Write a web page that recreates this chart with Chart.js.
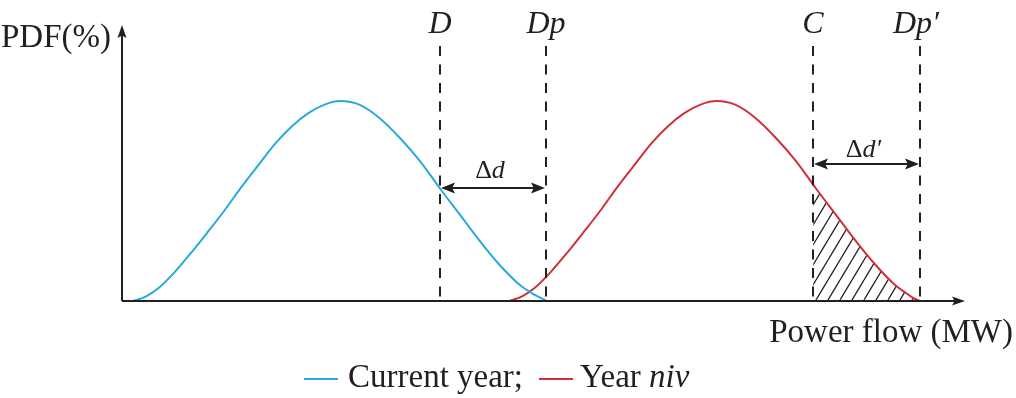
<!DOCTYPE html>
<html>
<head>
<meta charset="utf-8">
<script src="https://cdn.jsdelivr.net/npm/chart.js@4.4.0/dist/chart.umd.min.js"></script>
<style>
html,body{margin:0;padding:0;background:#fff;}
#wrap{width:1016px;height:398px;position:relative;}
</style>
</head>
<body>
<div id="wrap"><canvas id="c" width="1016" height="398"></canvas></div>
<script>
// ---- data (x: power flow, arbitrary units 0..100; y: PDF %, 0..100) ----
const seriesNames = ['Current year;', 'Year '];
const seriesItalicSuffix = ['', 'niv'];
const blueX = [1.3, 2.8, 4.3, 6.3, 8.3, 10.2, 12.2, 14.2, 16.2, 18.2, 20.1, 22.1, 24.1, 25.9, 28.2, 30.6, 33.0, 35.4, 37.7, 40.1, 42.5, 44.8, 47.2, 48.6, 49.6, 50.4];
const blueY = [0, 1.6, 4.6, 10.7, 17.9, 25.2, 33.1, 41.6, 49.5, 57.3, 63.4, 68.3, 71.5, 72.7, 71.3, 66.4, 59.2, 50.7, 41.0, 31.3, 21.6, 13.1, 5.8, 2.9, 1.2, 0];
const redX  = [45.9, 47.4, 48.9, 50.9, 52.9, 54.8, 56.8, 58.8, 60.8, 62.8, 64.7, 66.7, 68.7, 70.5, 72.8, 75.2, 77.6, 80.0, 82.3, 84.7, 87.1, 89.4, 91.7, 93.0, 93.9, 94.7];
const redY  = [0, 1.6, 4.6, 10.7, 17.9, 25.2, 33.1, 41.6, 49.5, 57.3, 63.4, 68.3, 71.5, 72.7, 71.3, 66.4, 59.2, 50.7, 41.0, 31.3, 21.6, 13.1, 5.8, 2.9, 1.0, 0];
const markerNames = ['D', 'Dp', 'C', 'Dp\u2032'];
const markerX = [37.7, 50.3, 82.0, 94.7];
const gapLabels = [['\u0394', 'd'], ['\u0394', 'd\u2032']];
const gapPairs = [[0, 1], [2, 3]];
const hatchRange = [2, 3];
const yAxisTitle = 'PDF(%)';
const xAxisTitle = 'Power flow (MW)';

// ---- styles ----
const SERIF = '"Liberation Serif","Times New Roman",Times,serif';
const INK = '#231f20';
const BLUE = '#29a9dc';
const RED = '#d12f3a';

function makeHatch() {
  const w = 12, h = 20;
  const c = document.createElement('canvas');
  c.width = w; c.height = h;
  const g = c.getContext('2d');
  g.strokeStyle = INK;
  g.lineWidth = 1.3;
  g.beginPath();
  g.moveTo(0, h); g.lineTo(w, 0);
  g.moveTo(-w, h); g.lineTo(0, 0);
  g.moveTo(w, h); g.lineTo(2 * w, 0);
  g.stroke();
  return c;
}

function arrowHead(ctx, x, y, dir, len, half) {
  ctx.beginPath();
  if (dir === 'right') { ctx.moveTo(x, y); ctx.lineTo(x - len, y - half); ctx.lineTo(x - len * 0.8, y); ctx.lineTo(x - len, y + half); }
  else if (dir === 'left') { ctx.moveTo(x, y); ctx.lineTo(x + len, y - half); ctx.lineTo(x + len * 0.8, y); ctx.lineTo(x + len, y + half); }
  else { ctx.moveTo(x, y); ctx.lineTo(x - half, y + len); ctx.lineTo(x, y + len * 0.8); ctx.lineTo(x + half, y + len); }
  ctx.closePath();
  ctx.fill();
}

const decor = {
  id: 'decor',
  beforeDatasetsDraw(chart) {
    const {ctx, chartArea: a, scales: {x}} = chart;
    const line = chart.getDatasetMeta(1).dataset;
    line.updateControlPoints(a, 'x');
    const x0 = x.getPixelForValue(markerX[hatchRange[0]]);
    const x1 = x.getPixelForValue(markerX[hatchRange[1]]);
    const pts = line.points;
    ctx.save();
    ctx.beginPath();
    ctx.rect(x0, a.top, x1 - x0 + 2, a.bottom - a.top);
    ctx.clip();
    ctx.beginPath();
    line.path(ctx);
    ctx.lineTo(pts[pts.length - 1].x, a.bottom);
    ctx.lineTo(pts[0].x, a.bottom);
    ctx.closePath();
    ctx.fillStyle = ctx.createPattern(makeHatch(), 'repeat');
    ctx.fill();
    ctx.restore();
  },
  afterDatasetsDraw(chart) {
    const {ctx, chartArea: a, scales: {x}} = chart;
    ctx.save();
    ctx.strokeStyle = INK;
    ctx.fillStyle = INK;

    // axes
    ctx.lineWidth = 2;
    ctx.beginPath();
    ctx.moveTo(a.left, a.bottom); ctx.lineTo(a.right - 8, a.bottom);
    ctx.moveTo(a.left, a.bottom); ctx.lineTo(a.left, a.top + 8);
    ctx.stroke();
    arrowHead(ctx, a.right, a.bottom, 'right', 13, 4.5);
    arrowHead(ctx, a.left, a.top - 1, 'up', 13, 4.5);

    // dashed marker lines + labels
    ctx.lineWidth = 2;
    ctx.setLineDash([10, 8.5]);
    const px = markerX.map(v => Math.round(x.getPixelForValue(v)));
    px.forEach(p => {
      ctx.beginPath();
      ctx.moveTo(p, a.top + 20);
      ctx.lineTo(p, a.bottom);
      ctx.stroke();
    });
    ctx.setLineDash([]);
    ctx.font = 'italic 32px ' + SERIF;
    ctx.textAlign = 'center';
    ctx.textBaseline = 'alphabetic';
    markerNames.forEach((n, i) => ctx.fillText(n, px[i] + (i === 3 ? -4 : 0), 33));

    // gap arrows
    const arrowY = [188, 164];
    const labelY = [178, 157];
    ctx.lineWidth = 2;
    gapPairs.forEach(([i0, i1], k) => {
      const xa = px[i0] + 1, xb = px[i1] - 1, yy = arrowY[k];
      ctx.beginPath();
      ctx.moveTo(xa + 8, yy); ctx.lineTo(xb - 8, yy);
      ctx.stroke();
      arrowHead(ctx, xa, yy, 'left', 14, 5.5);
      arrowHead(ctx, xb, yy, 'right', 14, 5.5);
      const [up, it] = gapLabels[k];
      ctx.font = '26px ' + SERIF;
      const w1 = ctx.measureText(up).width;
      ctx.font = 'italic 26px ' + SERIF;
      const w2 = ctx.measureText(it).width;
      const sx = (xa + xb) / 2 - (w1 + w2) / 2 - 3;
      ctx.textAlign = 'left';
      ctx.font = '26px ' + SERIF;
      ctx.fillText(up, sx, labelY[k]);
      ctx.font = 'italic 26px ' + SERIF;
      ctx.fillText(it, sx + w1, labelY[k]);
    });

    // axis titles
    ctx.textAlign = 'left';
    ctx.font = '33px ' + SERIF;
    ctx.fillText(yAxisTitle, 1, 47);
    ctx.textAlign = 'right';
    ctx.fillText(xAxisTitle, 1013, 342);
    ctx.textAlign = 'left';

    // legend
    const legendY = 379, textY = 387;
    const items = [
      {color: BLUE, x0: 304, x1: 338, tx: 348},
      {color: RED, x0: 539, x1: 573, tx: 580}
    ];
    items.forEach((it, i) => {
      ctx.strokeStyle = it.color;
      ctx.lineWidth = 2;
      ctx.beginPath(); ctx.moveTo(it.x0, legendY); ctx.lineTo(it.x1, legendY); ctx.stroke();
      ctx.fillStyle = INK;
      ctx.font = '33px ' + SERIF;
      ctx.fillText(seriesNames[i], it.tx, textY);
      if (seriesItalicSuffix[i]) {
        const w = ctx.measureText(seriesNames[i]).width;
        ctx.font = 'italic 33px ' + SERIF;
        ctx.fillText(seriesItalicSuffix[i], it.tx + w, textY);
      }
    });
    ctx.restore();
  }
};

const toPts = (xs, ys) => xs.map((v, i) => ({x: v, y: ys[i]}));

new Chart(document.getElementById('c'), {
  type: 'line',
  data: {
    datasets: [
      {label: seriesNames[0], data: toPts(blueX, blueY), borderColor: BLUE, borderWidth: 2, pointRadius: 0, cubicInterpolationMode: 'monotone', fill: false},
      {label: seriesNames[1] + seriesItalicSuffix[1], data: toPts(redX, redY), borderColor: RED, borderWidth: 2, pointRadius: 0, cubicInterpolationMode: 'monotone', fill: false}
    ]
  },
  options: {
    responsive: false,
    animation: false,
    events: [],
    layout: {padding: {left: 122, top: 26, right: 51, bottom: 97}},
    scales: {
      x: {type: 'linear', min: 0, max: 100, display: false},
      y: {type: 'linear', min: 0, max: 100, display: false}
    },
    plugins: {legend: {display: false}, tooltip: {enabled: false}}
  },
  plugins: [decor]
});
</script>
</body>
</html>
